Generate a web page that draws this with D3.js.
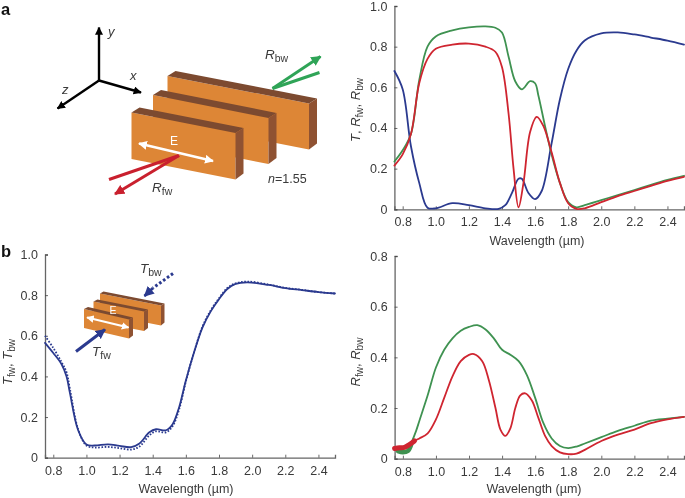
<html>
<head>
  <meta charset="utf-8">
  <title>Transmission and reflection spectra</title>
  <script src="https://d3js.org/d3.v7.min.js"></script>
  <style>
    html, body { margin: 0; padding: 0; background: #fff; }
    text { font-family: "Liberation Sans", Arial, sans-serif; fill: #3a3a3a; }
    svg { filter: blur(0.3px); }
  </style>
</head>

<body>
  <div id="figure"></div>
  <script>
    // panel a, simulated spectra
    const aWave = [0.75, 0.8, 0.85, 0.9, 0.95, 1.0, 1.1, 1.2, 1.3, 1.38, 1.42, 1.46, 1.5, 1.52, 1.56, 1.6, 1.64, 1.7, 1.75, 1.8, 1.85, 1.9, 2.0, 2.1, 2.2, 2.3, 2.4, 2.5];
    const aT = [0.68, 0.59, 0.31, 0.13, 0.008, 0.005, 0.03, 0.02, 0.005, 0.002, 0.02, 0.08, 0.15, 0.15, 0.08, 0.05, 0.09, 0.325, 0.54, 0.69, 0.78, 0.83, 0.865, 0.87, 0.86, 0.845, 0.83, 0.81];
    const aGreenWave = [0.75, 0.8, 0.85, 0.9, 0.95, 1.0, 1.1, 1.2, 1.3, 1.36, 1.4, 1.44, 1.48, 1.52, 1.57, 1.6, 1.62, 1.66, 1.7, 1.75, 1.8, 1.85, 1.9, 2.0, 2.1, 2.2, 2.3, 2.4, 2.5];
    const aRbw = [0.235, 0.29, 0.37, 0.635, 0.8, 0.85, 0.88, 0.895, 0.9, 0.893, 0.87, 0.75, 0.63, 0.59, 0.63, 0.62, 0.56, 0.41, 0.27, 0.13, 0.035, 0.01, 0.02, 0.045, 0.07, 0.095, 0.12, 0.145, 0.165];
    const aRedWave = [0.75, 0.8, 0.85, 0.9, 0.95, 1.0, 1.1, 1.2, 1.3, 1.36, 1.4, 1.44, 1.47, 1.5, 1.53, 1.57, 1.61, 1.65, 1.7, 1.75, 1.8, 1.85, 1.9, 2.0, 2.1, 2.2, 2.3, 2.4, 2.5];
    const aRfw = [0.215, 0.27, 0.37, 0.62, 0.74, 0.79, 0.81, 0.815, 0.8, 0.775, 0.7, 0.47, 0.2, 0.01, 0.13, 0.38, 0.455, 0.41, 0.28, 0.13, 0.03, 0.002, 0.005, 0.035, 0.065, 0.09, 0.115, 0.14, 0.16];

    // panel b left, measured transmission
    const bTWave = [0.75, 0.8, 0.85, 0.88, 0.9, 0.95, 1.0, 1.05, 1.13, 1.2, 1.27, 1.32, 1.38, 1.42, 1.48, 1.52, 1.56, 1.6, 1.65, 1.7, 1.75, 1.8, 1.85, 1.9, 1.97, 2.1, 2.2, 2.3, 2.4, 2.5];
    const bTfw = [0.565, 0.515, 0.46, 0.4, 0.32, 0.135, 0.065, 0.06, 0.066, 0.058, 0.052, 0.07, 0.125, 0.14, 0.135, 0.165, 0.25, 0.38, 0.52, 0.64, 0.72, 0.78, 0.83, 0.855, 0.863, 0.85, 0.835, 0.825, 0.815, 0.808];
    const bTbw = [0.6, 0.54, 0.47, 0.42, 0.34, 0.14, 0.06, 0.05, 0.053, 0.047, 0.04, 0.055, 0.11, 0.13, 0.125, 0.155, 0.24, 0.375, 0.52, 0.645, 0.725, 0.785, 0.835, 0.858, 0.867, 0.852, 0.836, 0.826, 0.815, 0.808];

    // panel b right, measured reflection
    const bGreenWave = [0.75, 0.78, 0.8, 0.83, 0.85, 0.88, 0.9, 0.95, 1.0, 1.05, 1.1, 1.15, 1.2, 1.25, 1.3, 1.35, 1.4, 1.45, 1.5, 1.55, 1.6, 1.65, 1.7, 1.75, 1.8, 1.85, 1.9, 2.0, 2.1, 2.2, 2.3, 2.4, 2.5];
    const bRbw = [0.035, 0.03, 0.025, 0.03, 0.06, 0.11, 0.15, 0.25, 0.36, 0.43, 0.475, 0.505, 0.52, 0.527, 0.51, 0.475, 0.43, 0.41, 0.385, 0.33, 0.24, 0.14, 0.08, 0.05, 0.042, 0.048, 0.06, 0.085, 0.11, 0.13, 0.15, 0.158, 0.165];
    const bRedWave = [0.75, 0.8, 0.85, 0.9, 0.95, 1.0, 1.05, 1.1, 1.15, 1.2, 1.23, 1.28, 1.32, 1.36, 1.39, 1.42, 1.45, 1.48, 1.51, 1.54, 1.58, 1.62, 1.66, 1.7, 1.75, 1.8, 1.85, 1.9, 2.0, 2.1, 2.2, 2.3, 2.4, 2.5];
    const bRfw = [0.045, 0.045, 0.065, 0.08, 0.1, 0.155, 0.24, 0.325, 0.385, 0.41, 0.413, 0.385, 0.31, 0.2, 0.115, 0.09, 0.12, 0.2, 0.25, 0.258, 0.23, 0.16, 0.09, 0.05, 0.025, 0.018, 0.02, 0.035, 0.07, 0.095, 0.115, 0.14, 0.155, 0.165];
    // noisy low end of the measurement, drawn as a thick stroke
    const bGreenNoiseWave = [0.77, 0.8, 0.83, 0.85];
    const bGreenNoise = [0.03, 0.025, 0.03, 0.055];
    const bRedNoiseWave = [0.75, 0.78, 0.81, 0.84, 0.87];
    const bRedNoise = [0.04, 0.043, 0.045, 0.056, 0.07];

    const xTicks = [0.8, 1.0, 1.2, 1.4, 1.6, 1.8, 2.0, 2.2, 2.4];
    const yTicksFull = [0, 0.2, 0.4, 0.6, 0.8, 1.0];
    const yTicksShort = [0, 0.2, 0.4, 0.6, 0.8];

    const BLUE = "#2b3a8f", GREEN = "#3f9251", RED = "#cf2530";
    const ORANGE = "#dd8636", BROWN = "#7c4a30", SIDE = "#8f5232";

    const svg = d3.select("#figure").append("svg")
      .attr("width", 685).attr("height", 498)
      .style("display", "block");

    function panel(o) {
      const x = d3.scaleLinear().domain([0.75, 2.5]).range(o.xr);
      const y = d3.scaleLinear().domain([0, o.ymax]).range(o.yr);
      const g = svg.append("g");

      const xa = g.append("g")
        .attr("transform", "translate(0," + o.yr[0] + ")")
        .call(d3.axisBottom(x).tickValues(xTicks).tickSize(-3).tickPadding(8).tickFormat(d3.format(".1f")));
      const ya = g.append("g")
        .attr("transform", "translate(" + o.xr[0] + ",0)")
        .call(d3.axisLeft(y).tickValues(o.yticks).tickSize(-3).tickPadding(7).tickFormat(d => d === 0 ? "0" : d3.format(".1f")(d)));
      [xa, ya].forEach(a => {
        a.selectAll("text").style("font-size", "12.5px").attr("fill", "#3a3a3a");
        a.selectAll("line").attr("stroke", "#444").attr("stroke-width", 0.8);
        a.select(".domain").attr("stroke", "#666").attr("stroke-width", 1.3);
      });

      const line = d3.line().x(d => x(d[0])).y(d => y(d[1])).curve(d3.curveCatmullRom.alpha(0.5));
      o.series.forEach(s => {
        g.append("path")
          .attr("d", line(d3.zip(s.x, s.y)))
          .attr("fill", "none")
          .attr("stroke", s.color)
          .attr("stroke-width", s.width || 1.8)
          .attr("stroke-dasharray", s.dash || null)
          .attr("stroke-linecap", s.dash ? "butt" : "round");
      });

      g.append("text")
        .attr("x", o.xlabel[0]).attr("y", o.xlabel[1])
        .attr("text-anchor", "middle")
        .style("font-size", "12.5px")
        .text("Wavelength (\u00b5m)");

      const yl = g.append("text")
        .attr("transform", "translate(" + o.ylabel[0] + "," + o.ylabel[1] + ") rotate(-90)")
        .attr("text-anchor", "middle")
        .style("font-size", "13px");
      o.ylabelParts.forEach(p => {
        const t = yl.append("tspan").text(p.t);
        if (p.i) t.style("font-style", "italic");
        if (p.sub) t.style("font-size", "10px").attr("dy", 3);
        if (p.up) t.attr("dy", -3);
      });
    }

    panel({
      xr: [394.4, 684], yr: [209.3, 6], ymax: 1, yticks: yTicksFull,
      xlabel: [537, 245], ylabel: [360, 110],
      ylabelParts: [{ t: "T", i: 1 }, { t: ", " }, { t: "R", i: 1 }, { t: "fw", sub: 1 }, { t: ", ", up: 1 }, { t: "R", i: 1 }, { t: "bw", sub: 1 }],
      series: [
        { x: aWave, y: aT, color: BLUE },
        { x: aGreenWave, y: aRbw, color: GREEN },
        { x: aRedWave, y: aRfw, color: RED }
      ]
    });

    panel({
      xr: [45, 335], yr: [457.7, 254.5], ymax: 1, yticks: yTicksFull,
      xlabel: [186, 493], ylabel: [12, 362],
      ylabelParts: [{ t: "T", i: 1 }, { t: "fw", sub: 1 }, { t: ", ", up: 1 }, { t: "T", i: 1 }, { t: "bw", sub: 1 }],
      series: [
        { x: bTWave, y: bTfw, color: BLUE },
        { x: bTWave, y: bTbw, color: BLUE, dash: "1.6 1.6" }
      ]
    });

    panel({
      xr: [394.6, 684], yr: [458.7, 256], ymax: 0.8, yticks: yTicksShort,
      xlabel: [534, 493], ylabel: [360, 362],
      ylabelParts: [{ t: "R", i: 1 }, { t: "fw", sub: 1 }, { t: ", ", up: 1 }, { t: "R", i: 1 }, { t: "bw", sub: 1 }],
      series: [
        { x: bGreenWave, y: bRbw, color: GREEN },
        { x: bGreenNoiseWave, y: bGreenNoise, color: GREEN, width: 4.5 },
        { x: bRedWave, y: bRfw, color: RED },
        { x: bRedNoiseWave, y: bRedNoise, color: RED, width: 5 }
      ]
    });

    // panel letters
    svg.append("text").attr("x", 1).attr("y", 15).style("font-size", "16.5px").style("font-weight", "bold").style("fill", "#111").text("a");
    svg.append("text").attr("x", 1).attr("y", 257).style("font-size", "16.5px").style("font-weight", "bold").style("fill", "#111").text("b");

    // ---- schematics
    const defs = svg.append("defs");
    function marker(id, color) {
      defs.append("marker").attr("id", id)
        .attr("viewBox", "0 0 10 10").attr("refX", 9).attr("refY", 5)
        .attr("markerWidth", 3.4).attr("markerHeight", 3.4)
        .attr("orient", "auto-start-reverse")
        .append("path").attr("d", "M0,0L10,5L0,10z").attr("fill", color);
    }
    marker("hBlack", "#000"); marker("hGreen", "#2fa457"); marker("hRed", "#c9202e");
    marker("hWhite", "#fff"); marker("hBlue", BLUE);

    function arrow(p, q, color, w, head, both, dash) {
      const l = svg.append("line")
        .attr("x1", p[0]).attr("y1", p[1]).attr("x2", q[0]).attr("y2", q[1])
        .attr("stroke", color).attr("stroke-width", w);
      if (head) l.attr("marker-end", "url(#" + head + ")");
      if (both) l.attr("marker-start", "url(#" + head + ")");
      if (dash) l.attr("stroke-dasharray", dash);
    }

    // one slab: front top left, width offset, depth offset, height
    function slab(tl, w, dep, h) {
      const tr = [tl[0] + w[0], tl[1] + w[1]];
      const pts = a => a.map(p => p.join(",")).join(" ");
      svg.append("polygon").attr("fill", ORANGE)
        .attr("points", pts([tl, tr, [tr[0], tr[1] + h], [tl[0], tl[1] + h]]));
      svg.append("polygon").attr("fill", BROWN)
        .attr("points", pts([tl, [tl[0] + dep[0], tl[1] + dep[1]], [tr[0] + dep[0], tr[1] + dep[1]], tr]));
      svg.append("polygon").attr("fill", SIDE)
        .attr("points", pts([tr, [tr[0] + dep[0], tr[1] + dep[1]], [tr[0] + dep[0], tr[1] + dep[1] + h - 1], [tr[0], tr[1] + h]]));
    }

    function label(x, y, letter, sub, size) {
      const t = svg.append("text").attr("x", x).attr("y", y).style("font-size", size + "px");
      t.append("tspan").style("font-style", "italic").text(letter);
      if (sub) t.append("tspan").attr("dy", 3).style("font-size", (size - 3) + "px").text(sub);
    }

    // coordinate axes
    arrow([99, 80.5], [99, 27.5], "#000", 2.4, "hBlack");
    arrow([99, 80.5], [141, 92.5], "#000", 2.4, "hBlack");
    arrow([99, 80.5], [57.5, 108.5], "#000", 2.4, "hBlack");
    label(108, 36, "y", null, 13);
    label(130, 80, "x", null, 13);
    label(62, 94, "z", null, 13);

    // main slabs, back to front
    slab([167.5, 76], [141.5, 27.5], [8, -5], 46);
    slab([153, 95], [115.5, 23], [8, -5], 46);
    slab([131.5, 112.5], [104, 20.5], [8, -5], 46.5);

    arrow([272.5, 88.5], [320.5, 56.5], "#2fa457", 3, "hGreen");
    arrow([272.5, 88.5], [319.5, 72.5], "#2fa457", 3);
    arrow([179, 155.5], [115, 194], "#c9202e", 3, "hRed");
    arrow([179, 155.5], [109, 179.5], "#c9202e", 3);
    arrow([139, 143.5], [213, 161], "#fff", 2.6, "hWhite", true);

    svg.append("text").attr("x", 174).attr("y", 145).attr("text-anchor", "middle").style("font-size", "12px").style("fill", "#fff").text("E");
    label(265, 59, "R", "bw", 13.5);
    label(152, 192, "R", "fw", 13.5);
    const n = svg.append("text").attr("x", 268).attr("y", 183).style("font-size", "12.5px");
    n.append("tspan").style("font-style", "italic").text("n");
    n.append("tspan").text("=1.55");

    // inset in panel b
    slab([100, 293.5], [61, 12], [3.5, -2], 20);
    slab([93.5, 301.5], [50.5, 10], [4, -2], 19.5);
    slab([84, 309], [45, 10.5], [4, -2], 19);
    arrow([87, 317.5], [128.5, 327.5], "#fff", 2.2, "hWhite", true);
    svg.append("text").attr("x", 113).attr("y", 314).attr("text-anchor", "middle").style("font-size", "10.5px").style("fill", "#fff").text("E");
    arrow([76, 351.5], [105, 329.5], BLUE, 3, "hBlue");
    arrow([173, 273.5], [153, 288], BLUE, 3, null, false, "2.6 2.2");
    arrow([153, 288], [144.5, 296], BLUE, 3, "hBlue");
    label(140, 273, "T", "bw", 13.5);
    label(92, 356, "T", "fw", 13.5);
  </script>
</body>
</html>
